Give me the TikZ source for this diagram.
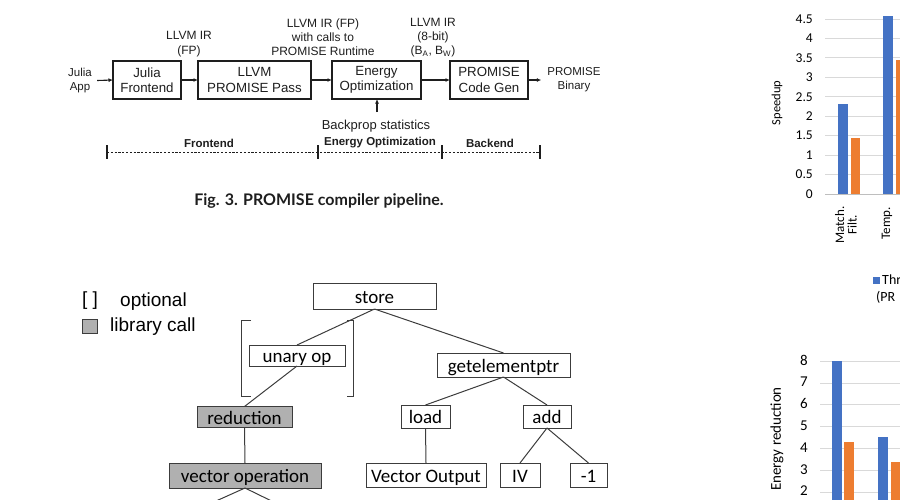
\documentclass[tikz,border=0pt]{standalone}
\usepackage{fontspec}
\setmainfont{Liberation Sans}
\newfontfamily\carlito{Carlito}
\newfontfamily\latofont{Lato}
\usetikzlibrary{arrows.meta}
\definecolor{barblue}{RGB}{68,114,196}
\definecolor{barorange}{RGB}{237,125,49}
\definecolor{gridgray}{RGB}{217,217,217}
\definecolor{axisgray}{RGB}{190,190,190}
\definecolor{libgray}{RGB}{176,176,176}
\definecolor{treeline}{RGB}{60,60,60}
\definecolor{pipeink}{RGB}{30,30,30}
\begin{document}
\begin{tikzpicture}[x=1pt,y=-1pt,
  stagebox/.style={draw=pipeink, text=pipeink, line width=1.4pt, align=center, inner sep=0pt, outer sep=0pt,
    font=\fontsize{13.3}{15.5}\selectfont, minimum height=38pt},
  plabel/.style={align=center, inner sep=0pt, text=pipeink, font=\fontsize{11.5}{14}\selectfont},
  arr/.style={draw=pipeink, line width=1.1pt, -{Latex[length=4.5pt,width=4pt]}},
  phase/.style={text=pipeink, font=\bfseries\fontsize{11.5}{13}\selectfont, inner sep=0pt},
  tickmark/.style={draw=pipeink, line width=1.5pt},
  treebox/.style={draw=treeline, line width=1pt, inner sep=0pt, outer sep=0pt,
    text height=15pt, text depth=1pt,
    font=\carlito\fontsize{19}{21}\selectfont},
  libbox/.style={treebox, fill=libgray},
  treeedge/.style={draw=treeline, line width=1pt},
  axlab/.style={font=\carlito\fontsize{13.5}{14}\selectfont, inner sep=0pt},
  axlabb/.style={font=\carlito\fontsize{15}{17}\selectfont, inner sep=0pt},
]
\useasboundingbox (0,0) rectangle (900,499);

% ---------------- Pipeline (Fig. 3) ----------------
\node[plabel] (app) at (80,80.5) {Julia\\App};
\node[stagebox, minimum width=68pt] (jf) at (147,80) {Julia\\Frontend};
\node[stagebox, minimum width=113pt] (pp) at (254.5,80) {LLVM\\PROMISE Pass};
\node[stagebox, minimum width=89pt] (en) at (376.5,80) {Energy\\Optimization};
\node[stagebox, minimum width=78pt] (cg) at (489,80) {PROMISE\\Code Gen};
\node[plabel] (bin) at (574,80) {PROMISE\\Binary};

\draw[arr] ([xshift=5pt]app.east) -- (jf.west);
\draw[arr] (jf.east) -- (pp.west);
\draw[arr] (pp.east) -- (en.west);
\draw[arr] (en.east) -- (cg.west);
\draw[arr] (cg.east) -- ([xshift=-6pt]bin.west);

\node[plabel, font=\fontsize{12}{14.5}\selectfont] (l1) at (189,44) {LLVM IR\\(FP)};
\node[plabel, font=\fontsize{12}{14}\selectfont] (l2) at (323,37.5) {LLVM IR (FP)\\with calls to\\PROMISE Runtime};
\node[plabel, font=\fontsize{12}{14}\selectfont] (l3) at (433,37.5) {LLVM IR\\(8-bit)\\(B\textsubscript{A}, B\textsubscript{W})};

\node[plabel, font=\fontsize{13}{14}\selectfont] (bp) at (376,126) {Backprop statistics};
\coordinate (bpt) at (377,112);
\draw[arr] (bpt) -- (bpt |- en.south);

\coordinate (t1) at (107,152);
\coordinate (t2) at (318,152);
\coordinate (t3) at (442,152);
\coordinate (t4) at (540,152);
\draw[pipeink, line width=0.8pt, dash pattern=on 2.2pt off 1.6pt] (t1) -- (t4);
\foreach \t in {t1,t2,t3,t4} \draw[tickmark] ([yshift=7pt]\t) -- ([yshift=-7pt]\t);
\node[phase] (ph1) at (209,143) {Frontend};
\node[phase] (ph2) at (380,143) {Energy Optimization};
\node[phase] (ph3) at (490,143) {Backend};

\node[font=\latofont\bfseries\fontsize{16}{18}\selectfont, inner sep=0pt, text=pipeink] (cap) at (319,201) {Fig. 3. PROMISE compiler pipeline.};

% ---------------- Tree ----------------
\node[font=\fontsize{19}{21}\selectfont, inner sep=0pt] (lb) at (90,301) {[ ]};
\node[font=\fontsize{19}{21}\selectfont, inner sep=0pt, anchor=west] (lopt) at (120,301.5) {optional};
\node[draw=treeline, fill=libgray, line width=0.8pt, minimum width=15pt, minimum height=14pt, inner sep=0pt] (lbox) at (90,326) {};
\node[font=\fontsize{19}{21}\selectfont, inner sep=0pt, anchor=west] (llib) at (110,327) {library call};

\node[treebox, minimum width=123pt, minimum height=26pt] (store) at (374.5,296) {store};
\node[treebox, minimum width=96pt, minimum height=21pt] (unary) at (297,355.5) {unary op};
\node[treebox, minimum width=133pt, minimum height=24pt] (gep) at (503.5,365) {getelementptr};
\node[libbox, minimum width=95pt, minimum height=21pt] (red) at (244.5,417) {reduction};
\node[treebox, minimum width=49pt, minimum height=23pt] (load) at (425.5,416.5) {load};
\node[treebox, minimum width=48pt, minimum height=23pt] (add) at (547,416.5) {add};
\node[libbox, minimum width=152pt, minimum height=25pt] (vop) at (245,475.5) {vector operation};
\node[treebox, minimum width=120pt, minimum height=24pt] (vout) at (426,475) {Vector Output};
\node[treebox, minimum width=40pt, minimum height=24pt] (iv) at (520,475) {IV};
\node[treebox, minimum width=37pt, minimum height=24pt] (m1) at (588.5,475) {-1};

\coordinate (vl) at (196,510);
\coordinate (vr) at (290,510);

\draw[treeedge] (store.south) -- (unary.north);
\draw[treeedge] (unary.south) -- (red.north);
\draw[treeedge] (red.south) -- (vop.north);
\draw[treeedge] (store.south) -- (gep.north);
\draw[treeedge] (gep.south) -- (load.north);
\draw[treeedge] (gep.south) -- (add.north);
\draw[treeedge] (load.south) -- (vout.north);
\draw[treeedge] (add.south) -- (iv.north);
\draw[treeedge] (add.south) -- (m1.north);
\draw[treeedge] (vop.south) -- (vl);
\draw[treeedge] (vop.south) -- (vr);

\draw[treeedge, line width=0.9pt] (251,320) -- (241,320) -- (241,396) -- (251,396);
\draw[treeedge, line width=0.9pt] (347,320) -- (353,320) -- (353,396) -- (347,396);

% ---------------- Speedup chart ----------------
\foreach \v in {0.5,1,...,4.5} \draw[gridgray, line width=0.8pt] (825,194-38.9*\v) -- (900,194-38.9*\v);
\draw[axisgray, line width=0.8pt] (825,194) -- (900,194);
\foreach \v/\t in {0/0,0.5/0.5,1/1,1.5/1.5,2/2,2.5/2.5,3/3,3.5/3.5,4/4,4.5/4.5}
  \node[axlab, anchor=east] at (813,194-38.9*\v) {\t};
\node[axlab, rotate=90, font=\carlito\fontsize{12.5}{14}\selectfont] (sp) at (777,103) {Speedup};
\fill[barblue] (838,104) rectangle (848,194);
\fill[barorange] (851,138) rectangle (860,194);
\fill[barblue] (883,16) rectangle (893,194);
\fill[barorange] (896,60) rectangle (905,194);
\node[axlab, rotate=90, align=center, font=\carlito\fontsize{13}{12.5}\selectfont] (x1) at (846,225) {Match.\\Filt.};
\node[axlab, rotate=90, anchor=east, font=\carlito\fontsize{13}{12.5}\selectfont] (x2) at (887,207) {Temp.};
\fill[barblue] (873,277) rectangle (880,284);
\node[axlab, anchor=west, font=\carlito\fontsize{14}{15}\selectfont] (lg1) at (882,280) {Thr};
\node[axlab, anchor=west, font=\carlito\fontsize{14}{15}\selectfont] (lg2) at (876,297) {(PR};

% ---------------- Energy chart ----------------
\foreach \v in {2,...,8} \draw[gridgray, line width=0.8pt] (820,492-21.8*\v+43.6) -- (900,492-21.8*\v+43.6);
\foreach \v in {2,...,8}
  \node[axlabb, anchor=east] at (808,491-21.8*\v+43.6) {\v};
\node[axlabb, rotate=90] (er) at (777,439) {Energy reduction};
\fill[barblue] (832,361.2) rectangle (842,510);
\fill[barorange] (844,442) rectangle (854,510);
\fill[barblue] (878,437) rectangle (888,510);
\fill[barorange] (891,462) rectangle (901,510);
\end{tikzpicture}
\end{document}
